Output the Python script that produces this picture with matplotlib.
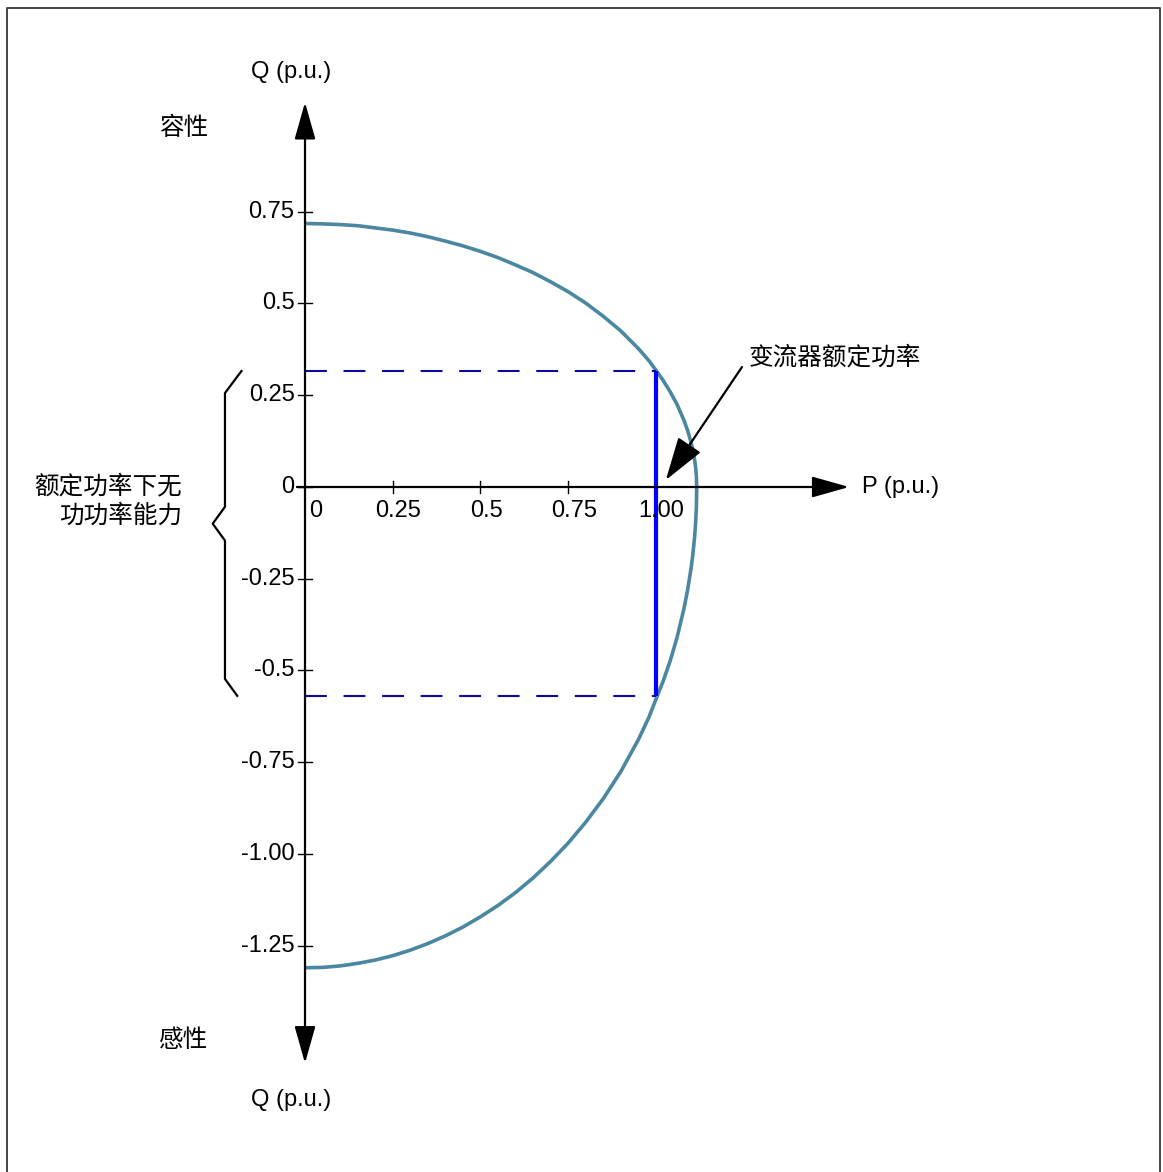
import matplotlib.pyplot as plt
from matplotlib.lines import Line2D

plt.rcParams['font.family'] = ['Liberation Sans', 'Noto Sans CJK SC', 'DejaVu Sans']
cjk = ['Noto Sans CJK SC', 'DejaVu Sans']

# capability curve (P, Q in p.u.)
curve_p = [0.0, 0.05, 0.10, 0.15, 0.20, 0.25, 0.30, 0.35, 0.40, 0.45, 0.50, 0.55, 0.60,
           0.65, 0.70, 0.75, 0.80, 0.85, 0.90, 0.95, 0.98, 1.00, 1.02, 1.04, 1.06, 1.08,
           1.09, 1.10, 1.105, 1.11, 1.113, 1.115, 1.116]
upper_q = [0.718, 0.717, 0.715, 0.712, 0.706, 0.700, 0.692, 0.682, 0.670, 0.657, 0.642, 0.625,
           0.605, 0.584, 0.559, 0.532, 0.501, 0.465, 0.425, 0.377, 0.344, 0.318, 0.291, 0.260,
           0.225, 0.181, 0.154, 0.121, 0.100, 0.074, 0.053, 0.030, 0.0]
lower_q = [-1.310, -1.309, -1.305, -1.298, -1.289, -1.277, -1.262, -1.244, -1.223, -1.199,
           -1.171, -1.140, -1.105, -1.065, -1.020, -0.970, -0.913, -0.849, -0.775, -0.688,
           -0.627, -0.578, -0.530, -0.475, -0.410, -0.330, -0.281, -0.221, -0.183, -0.136,
           -0.096, -0.055, 0.0]

# rated converter power and reactive range at that power
p_rated = 1.0
q_rated = [-0.569, 0.316]

x_ticks = [0.25, 0.5, 0.75, 1.0]
x_labels = ['0.25', '0.5', '0.75', '1.00']
y_ticks = [0.75, 0.5, 0.25, 0, -0.25, -0.5, -0.75, -1.0, -1.25]
y_labels = ['0.75', '0.5', '0.25', '0', '-0.25', '-0.5', '-0.75', '-1.00', '-1.25']

fig = plt.figure(figsize=(11.63, 11.72), dpi=100)
ax = fig.add_axes([0, 0, 1, 1])
# 1 p.u. of P = 351 px, 1 p.u. of Q = 367 px
ax.set_xlim(-305 / 351, (1163 - 305) / 351)
ax.set_ylim((487 - 1172) / 367, 487 / 367)
ax.axis('off')

# frame (top, left, right only)
fig.add_artist(Line2D([6.5 / 1163, 6.5 / 1163, 1160 / 1163, 1160 / 1163],
                      [0, 1 - 7.5 / 1172, 1 - 7.5 / 1172, 0],
                      transform=fig.transFigure, color='#444444', lw=1.4))

# axes with arrows
arrow = dict(arrowstyle='-|>,head_length=2.3,head_width=0.65', color='k', lw=1.6,
             mutation_scale=10, shrinkA=0, shrinkB=0)
ax.annotate('', xy=(1.550, 0), xytext=(-0.023, 0), arrowprops=arrow)
ax.annotate('', xy=(0, 1.048), xytext=(0, 0), arrowprops=arrow)
ax.annotate('', xy=(0, -1.570), xytext=(0, 0), arrowprops=arrow)

# ticks
for v, lab in zip(x_ticks, x_labels):
    ax.plot([v, v], [-0.016, 0.016], color='k', lw=1.0)
    ax.annotate(lab, (v, 0), xytext=(4, -17), textcoords='offset points',
                ha='center', va='center', fontsize=17)
ax.annotate('0', (0, 0), xytext=(3, -17), textcoords='offset points',
            ha='left', va='center', fontsize=17)
for v, lab in zip(y_ticks, y_labels):
    ax.plot([-0.02, 0.02], [v, v], color='k', lw=1.0)
    ax.annotate(lab, (0, v), xytext=(-7.5, 0), textcoords='offset points',
                ha='right', va='center', fontsize=17)

# capability curve
ax.plot(curve_p, upper_q, color='#4B87A1', lw=2.6, solid_capstyle='butt')
ax.plot(curve_p, lower_q, color='#4B87A1', lw=2.6, solid_capstyle='butt')

# rated power line and dashed guides
ax.plot([p_rated, p_rated], q_rated, color='#0000FF', lw=3.0, solid_capstyle='butt')
for q in q_rated:
    ax.plot([0, p_rated], [q, q], color='#0A0A9E', lw=1.5, dashes=(10.5, 8.0))

# brace for reactive range
qt, qb = q_rated[1], q_rated[0]
qm = qt - 0.47 * (qt - qb)
ax.plot([-0.181, -0.228, -0.228, -0.263, -0.228, -0.228, -0.193],
        [qt, qt - 0.06, qm + 0.046, qm, qm - 0.046, qb + 0.046, qb],
        color='k', lw=1.6)

# texts
ax.annotate('', xy=(1.028, 0.019), xytext=(1.245, 0.327),
            arrowprops=dict(arrowstyle='-|>,head_length=2.7,head_width=0.85', color='k', lw=1.6,
                            mutation_scale=10, shrinkA=0, shrinkB=0))
ax.text(1.265, 0.354, '变流器额定功率', ha='left', va='center', fontsize=17.7, family=cjk)
ax.text(1.587, 0, 'P (p.u.)', ha='left', va='center', fontsize=17)
ax.text(-0.040, 1.130, 'Q (p.u.)', ha='center', va='center', fontsize=17)
ax.text(-0.040, -1.670, 'Q (p.u.)', ha='center', va='center', fontsize=17)
ax.text(-0.345, 0.978, '容性', ha='center', va='center', fontsize=17.7, family=cjk)
ax.text(-0.345, -1.507, '感性', ha='center', va='center', fontsize=17.7, family=cjk)
ax.text(-0.350, -0.038, '额定功率下无\n功功率能力', ha='right', va='center', fontsize=17.7,
        family=cjk, multialignment='right', linespacing=1.15)

fig.savefig('out.png', dpi=100)
